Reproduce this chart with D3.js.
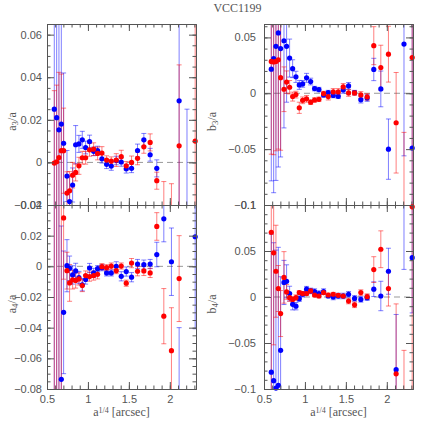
<!DOCTYPE html>
<html><head><meta charset="utf-8">
<script src="https://cdn.jsdelivr.net/npm/d3@7"></script>
<style>body{margin:0;background:#fff}svg{display:block}</style>
</head><body>
<svg id="c" width="436" height="436"></svg>
<script>
// ---- data ----
const xs = [0.589,0.618,0.646,0.675,0.703,0.744,0.776,0.813,0.85,0.89,0.931,0.972,1.02,1.07,1.118,1.171,1.228,1.285,1.346,1.407,1.468,1.533,1.606,1.683,1.76,1.841,1.927,2.02,2.114,2.21,2.31];

const a3Blue = [0.025,0.021,0.0153,0.018,0.009,-0.0064,-0.0184,-0.0106,0.0083,0.0087,0.0106,0.007,0.0098,0.0052,0.0056,0.0017,-0.0009,-0.0017,0.0009,0.0002,-0.003,-0.0028,0.0056,0.0106,0.0036,-0.0028,null,null,0.0289,-0.05,null];
const a3BlueErr = [0.09,0.09,0.09,0.05,0.033,0.012,0.012,0.008,0.009,0.004,0.004,0.003,0.003,0.002,0.002,0.002,0.002,0.002,0.002,0.002,0.002,0.002,0.003,0.003,0.003,0.004,null,null,0.06,0.075,null];
const a3Red = [-0.0003,0.0003,0.0023,0.0055,0.0055,-0.0144,-0.0133,-0.006,-0.0047,-0.0016,0.0022,0.0022,0.0059,0.0062,0.0042,0.0044,0.0011,0.0006,0.0011,0.0027,-0.0016,0,0.0019,0.0073,0.0094,-0.0086,-0.03,-0.035,0.0078,null,0.01];
const a3RedErr = [0.034,0.036,0.04,0.036,0.02,0.01,0.009,0.006,0.004,0.004,0.003,0.003,0.003,0.003,0.003,0.003,0.002,0.002,0.003,0.003,0.002,0.003,0.003,0.003,0.004,0.004,0.021,0.025,0.038,null,0.1];

const b3Blue = [0.0216,0.031,0.042,0.054,0.040,0.047,0.042,0.0315,0.022,0.0147,0.0075,0.0084,0.0138,0.0105,0.0042,0.0033,-0.0015,0.0006,-0.002,-0.0027,0.003,0.0066,0.0006,-0.0057,-0.0042,0.0213,0.0039,-0.05,null,0.044,-0.049];
const b3BlueErr = [0.1,0.12,0.12,0.12,0.097,0.078,0.05,0.017,0.008,0.005,0.004,0.003,0.004,0.003,0.002,0.002,0.002,0.002,0.002,0.002,0.003,0.003,0.002,0.003,0.003,0.01,0.016,0.027,null,0.1,0.15];
const b3Red = [0.0285,0.028,0.0285,0.030,0.014,0.0036,0.010,0.0054,-0.003,-0.0012,-0.013,-0.0063,-0.005,-0.008,-0.006,-0.0054,-0.0003,-0.003,0.0012,0.0012,0.0057,0.0003,0.0003,-0.0015,-0.0033,0.0426,0.023,0.035,-0.0264,-0.115,0.032];
const b3RedErr = [0.083,0.083,0.08,0.08,0.065,0.02,0.01,0.006,0.004,0.003,0.005,0.003,0.003,0.002,0.002,0.002,0.002,0.003,0.003,0.003,0.003,0.003,0.002,0.003,0.003,0.017,0.02,0.025,0.045,0.08,0.15];

const a4Blue = [-0.1,-0.12,0.06,-0.0737,-0.030,0.0004,-0.0013,-0.0056,-0.003,-0.0073,-0.012,-0.0086,-0.0011,-0.0043,-0.0015,-0.0009,-0.0043,-0.0043,0,-0.0065,-0.0034,-0.0071,0.0015,0.0011,0.0015,0.0077,0.031,0.003,-0.09,null,0.0193];
const a4BlueErr = [0.2,0.2,0.2,0.1,0.04,0.017,0.008,0.006,0.005,0.004,0.004,0.003,0.003,0.003,0.002,0.002,0.002,0.002,0.003,0.003,0.003,0.003,0.003,0.003,0.003,0.008,0.015,0.022,0.05,null,0.06];
const a4Red = [-0.1,0.08,-0.12,0.07,0.0316,-0.0028,-0.0108,-0.0088,-0.0092,-0.0082,-0.0125,-0.006,-0.0067,-0.006,-0.0052,-0.0002,-0.0009,0.0002,-0.0028,0.0002,-0.011,0.0021,-0.0032,-0.003,-0.0043,0.026,-0.0325,-0.055,-0.008,null,null];
const a4RedErr = [0.2,0.2,0.2,0.2,0.04,0.012,0.012,0.006,0.005,0.004,0.004,0.003,0.003,0.003,0.003,0.002,0.002,0.002,0.002,0.002,0.002,0.003,0.003,0.003,0.003,0.009,0.018,0.028,0.028,null,null];

const b4Blue = [-0.0817,-0.091,-0.099,-0.096,-0.058,0.0158,0.017,0.0037,-0.008,-0.01,-0.0018,0.003,0.0085,0.0066,0.0059,0.0037,0.0059,0.0011,0,0.0011,0.0011,0.003,-0.0015,-0.0026,-0.0007,0.0085,0.0011,0.028,-0.079,0.12,0.0427];
const b4BlueErr = [0.15,0.15,0.15,0.15,0.08,0.024,0.018,0.008,0.006,0.004,0.003,0.003,0.003,0.003,0.003,0.003,0.003,0.002,0.003,0.003,0.003,0.003,0.003,0.003,0.003,0.008,0.016,0.025,0.06,0.09,0.06];
const b4Red = [0.0703,0.048,0.028,0.0092,-0.018,0.0213,0.0055,-0.0007,-0.0026,-0.0007,0.0048,0.0037,0.0037,0.0066,0.0022,0.0011,0.0048,0.0022,0.003,0.0018,0.0011,-0.0044,-0.0085,0.0048,0.0004,0.0298,0.0519,0.0092,-0.0835,-0.12,0.098];
const b4RedErr = [0.2,0.1,0.05,0.025,0.025,0.028,0.008,0.004,0.003,0.003,0.002,0.002,0.002,0.002,0.002,0.002,0.002,0.002,0.002,0.002,0.002,0.003,0.003,0.003,0.003,0.014,0.02,0.019,0.076,0.062,0.2];

const xTicks = [0.5,1,1.5,2];
const xTickLabels = ["0.5","1","1.5","2"];
const a3Ticks = [-0.02,0,0.02,0.04,0.06];
const a3TickLabels = ["\u22120.02","0","0.02","0.04","0.06"];
const a4Ticks = [-0.08,-0.06,-0.04,-0.02,0,0.02,0.04];
const a4TickLabels = ["\u22120.08","\u22120.06","\u22120.04","\u22120.02","0","0.02","0.04"];
const b3Ticks = [-0.1,-0.05,0,0.05];
const b3TickLabels = ["\u22120.1","\u22120.05","0","0.05"];
const b4Ticks = [-0.1,-0.05,0,0.05,0.1];
const b4TickLabels = ["\u22120.1","\u22120.05","0","0.05","0.1"];
const title = "VCC1199";

// ---- drawing ----
const svg = d3.select('#c');
const xDomain = [0.5, 2.32];
const ax = '#555';

function range(a,b,s){const r=[];for(let v=a;v<=b+1e-9;v+=s)r.push(+v.toFixed(4));return r;}

function panel(cfg, idx){
  const g = svg.append('g').attr('transform',`translate(${cfg.x0},${cfg.y0})`);
  const x = d3.scaleLinear().domain(xDomain).range([0,cfg.w]);
  const y = d3.scaleLinear().domain(cfg.dom).range([cfg.h,0]);
  const cid='clip'+idx, pid='clipp'+idx;
  const defs = svg.append('defs');
  defs.append('clipPath').attr('id',cid).append('rect').attr('width',cfg.w).attr('height',cfg.h);
  defs.append('clipPath').attr('id',pid).append('rect').attr('x',-3).attr('y',-3).attr('width',cfg.w+6).attr('height',cfg.h+6);

  g.append('line').attr('x1',0).attr('x2',cfg.w).attr('y1',y(0)).attr('y2',y(0))
    .attr('stroke','#999').attr('stroke-dasharray','6,4').attr('stroke-width',1);

  const bars = g.append('g').attr('clip-path',`url(#${cid})`);
  const pts = g.append('g').attr('clip-path',`url(#${pid})`);
  const series = [
    {v:cfg.blue, e:cfg.blueErr, bar:'rgba(0,0,255,0.5)', fill:'#0000ff'},
    {v:cfg.red, e:cfg.redErr, bar:'rgba(255,0,0,0.5)', fill:'#ff0000'}
  ];
  series.forEach(s=>{
    const d = xs.map((xv,i)=>({x:xv,v:s.v[i],e:s.e[i]})).filter(p=>p.v!==null && p.e!==null);
    const gg = bars.append('g').attr('stroke',s.bar).attr('stroke-width',1).attr('fill','none');
    gg.selectAll('path').data(d).join('path')
      .attr('d',p=>{
        const px=x(p.x), lo=y(p.v-p.e), hi=y(p.v+p.e), c=2.5;
        return `M${px},${lo}V${hi}M${px-c},${lo}H${px+c}M${px-c},${hi}H${px+c}`;
      });
  });
  series.forEach(s=>{
    const d = xs.map((xv,i)=>({x:xv,v:s.v[i]})).filter(p=>p.v!==null);
    pts.append('g').selectAll('circle').data(d).join('circle')
      .attr('cx',p=>x(p.x)).attr('cy',p=>y(p.v)).attr('r',2.6).attr('fill',s.fill);
  });

  const minorX = range(0.5,2.3,0.1);
  const minorY = range(Math.ceil(cfg.dom[0]/cfg.minor)*cfg.minor, cfg.dom[1], cfg.minor);
  const style = sel=>{sel.selectAll('line').attr('stroke',ax);sel.select('.domain').attr('stroke',ax);sel.selectAll('text').attr('fill',ax).attr('font-family','Liberation Sans, Arial, sans-serif').attr('font-size',11);};

  g.append('g').attr('transform',`translate(0,${cfg.h})`).call(d3.axisBottom(x).tickValues(minorX).tickFormat('').tickSizeInner(-3.5).tickSizeOuter(0)).call(style);
  g.append('g').call(d3.axisTop(x).tickValues(minorX).tickFormat('').tickSizeInner(-3.5).tickSizeOuter(0)).call(style);
  g.append('g').call(d3.axisLeft(y).tickValues(minorY).tickFormat('').tickSizeInner(-3.5).tickSizeOuter(0)).call(style);
  g.append('g').attr('transform',`translate(${cfg.w},0)`).call(d3.axisRight(y).tickValues(minorY).tickFormat('').tickSizeInner(-3.5).tickSizeOuter(0)).call(style);
  g.append('g').attr('transform',`translate(0,${cfg.h})`).call(d3.axisBottom(x).tickValues(xTicks).tickFormat((d,i)=>cfg.xlab?xTickLabels[i]:'').tickSizeInner(-7).tickSizeOuter(0).tickPadding(6)).call(style);
  g.append('g').call(d3.axisTop(x).tickValues(xTicks).tickFormat('').tickSizeInner(-7).tickSizeOuter(0)).call(style);
  g.append('g').call(d3.axisLeft(y).tickValues(cfg.ticks).tickFormat((d,i)=>cfg.tickLabels[i]).tickSizeInner(-7).tickSizeOuter(0).tickPadding(cfg.pad)).call(style);
  g.append('g').attr('transform',`translate(${cfg.w},0)`).call(d3.axisRight(y).tickValues(cfg.ticks).tickFormat('').tickSizeInner(-7).tickSizeOuter(0)).call(style);

  const yl = svg.append('text').attr('transform',`translate(${cfg.ylx},${cfg.y0+cfg.h/2+7}) rotate(-90)`)
    .attr('text-anchor','middle').attr('font-family','Liberation Serif, serif').attr('font-size',12).attr('fill',ax);
  yl.append('tspan').text(cfg.ylab[0]);
  yl.append('tspan').attr('baseline-shift','-25%').attr('font-size',9).text(cfg.ylab[1]);
  yl.append('tspan').text('/a');

  if(cfg.xlab){
    const xl = svg.append('text').attr('x',cfg.x0+cfg.w/2).attr('y',cfg.y0+cfg.h+27)
      .attr('text-anchor','middle').attr('font-family','Liberation Serif, serif').attr('font-size',12).attr('fill',ax);
    xl.append('tspan').text('a');
    xl.append('tspan').attr('baseline-shift','35%').attr('font-size',8).text('1/4');
    xl.append('tspan').text(' [arcsec]');
  }
}

const L=47, R=264, W=149, T=24, M=205, B=389;
const cfgs = [
  {x0:L,y0:T,w:W,h:M-T,dom:[-0.02,0.065],blue:a3Blue,blueErr:a3BlueErr,red:a3Red,redErr:a3RedErr,ticks:a3Ticks,tickLabels:a3TickLabels,minor:0.005,ylab:['a','3'],ylx:16,pad:5,xlab:false},
  {x0:R,y0:T,w:W,h:M-T,dom:[-0.1,0.062],blue:b3Blue,blueErr:b3BlueErr,red:b3Red,redErr:b3RedErr,ticks:b3Ticks,tickLabels:b3TickLabels,minor:0.01,ylab:['b','3'],ylx:216,pad:8,xlab:false},
  {x0:L,y0:M,w:W,h:B-M,dom:[-0.08,0.04],blue:a4Blue,blueErr:a4BlueErr,red:a4Red,redErr:a4RedErr,ticks:a4Ticks,tickLabels:a4TickLabels,minor:0.005,ylab:['a','4'],ylx:16,pad:5,xlab:true},
  {x0:R,y0:M,w:W,h:B-M,dom:[-0.1,0.1],blue:b4Blue,blueErr:b4BlueErr,red:b4Red,redErr:b4RedErr,ticks:b4Ticks,tickLabels:b4TickLabels,minor:0.01,ylab:['b','4'],ylx:216,pad:8,xlab:true}
];
cfgs.forEach(panel);

svg.append('text').attr('x',237.5).attr('y',12).attr('text-anchor','middle')
  .attr('font-family','Liberation Serif, serif').attr('font-size',12).attr('fill',ax).text(title);
</script>
</body></html>
